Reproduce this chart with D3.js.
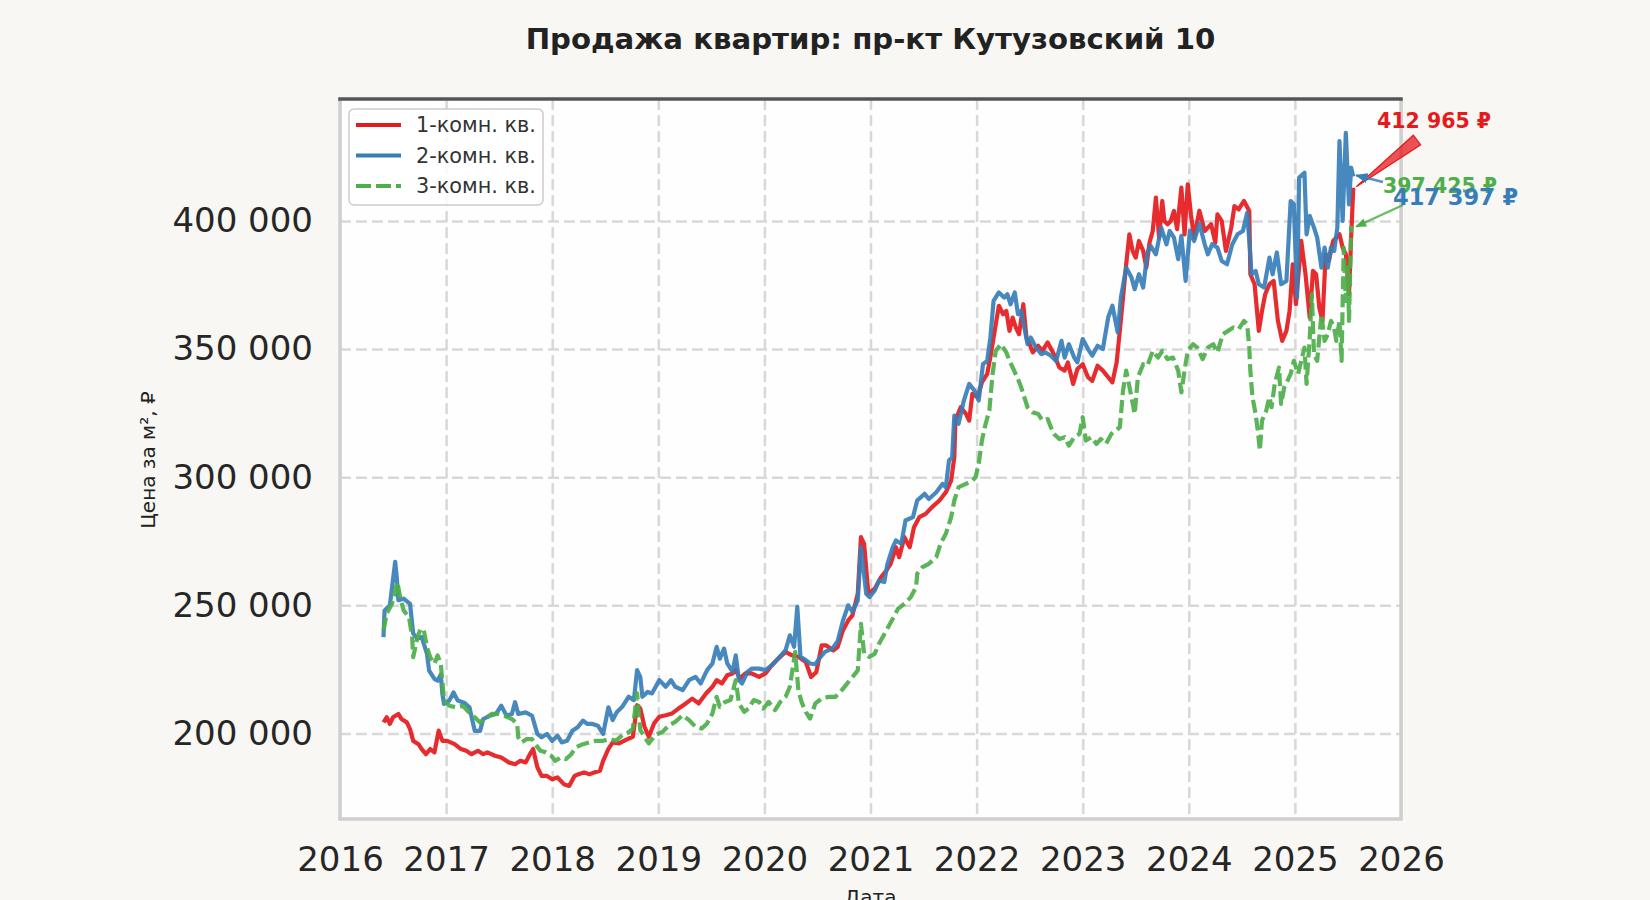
<!DOCTYPE html>
<html>
<head>
<meta charset="utf-8">
<script src="https://cdn.jsdelivr.net/npm/d3@7"></script>
<style>
  body { margin: 0; background: #f8f7f3; }
  svg { display: block; font-family: "DejaVu Sans", sans-serif; }
</style>
</head>
<body>
<div id="chart"></div>
<script>
// Данные: [год (десятичный), цена за м²]
const room1 = [
  [2016.41,204300],[2016.44,206300],[2016.47,203700],[2016.50,206300],[2016.55,207600],[2016.58,205600],
  [2016.63,204300],[2016.66,201700],[2016.69,197100],[2016.74,195800],[2016.77,193900],[2016.81,191900],
  [2016.85,193900],[2016.89,192600],[2016.93,201100],[2016.965,197100],[2017.01,197100],[2017.08,195800],
  [2017.14,193900],[2017.19,193200],[2017.24,191900],[2017.30,193200],[2017.35,191900],[2017.39,192600],
  [2017.46,191300],[2017.52,190600],[2017.59,188700],[2017.65,188000],[2017.70,189300],[2017.75,188700],
  [2017.79,191900],[2017.82,193900],[2017.86,186800],[2017.90,183400],[2017.95,183400],[2018.00,182100],
  [2018.05,182800],[2018.11,180200],[2018.16,179500],[2018.21,183400],[2018.25,184100],[2018.30,184800],
  [2018.35,184100],[2018.40,184800],[2018.45,185400],[2018.48,189300],[2018.53,194000],[2018.57,196500],
  [2018.63,196100],[2018.69,197400],[2018.76,198700],[2018.80,211000],[2018.83,209700],[2018.87,202600],
  [2018.91,198700],[2018.96,203900],[2019.01,206500],[2019.07,207100],[2019.13,207800],[2019.19,209700],
  [2019.26,211700],[2019.32,213600],[2019.38,211700],[2019.45,215600],[2019.51,218200],[2019.55,220800],
  [2019.60,219500],[2019.65,222700],[2019.70,223400],[2019.73,224700],[2019.77,221400],[2019.82,223400],
  [2019.88,223400],[2019.95,222100],[2020.01,223400],[2020.07,226600],[2020.13,229200],[2020.20,231800],
  [2020.26,230500],[2020.32,229900],[2020.39,227900],[2020.44,222000],[2020.49,224000],[2020.54,234400],
  [2020.58,234400],[2020.65,232400],[2020.69,233700],[2020.74,240200],[2020.79,244100],[2020.83,246100],
  [2020.88,254500],[2020.91,276600],[2020.94,274000],[2020.98,254500],[2021.04,256500],[2021.10,261000],
  [2021.15,263600],[2021.19,266200],[2021.24,272700],[2021.27,268800],[2021.32,276600],[2021.37,272700],
  [2021.41,280500],[2021.46,284400],[2021.52,285700],[2021.58,288300],[2021.65,290900],[2021.71,294100],
  [2021.76,298700],[2021.79,307800],[2021.80,322100],[2021.85,327300],[2021.90,324700],[2021.93,322100],
  [2021.96,332500],[2022.01,331200],[2022.05,337000],[2022.10,340300],[2022.13,347000],[2022.16,354500],
  [2022.21,366900],[2022.25,363600],[2022.28,364900],[2022.31,357100],[2022.34,362300],[2022.37,358400],
  [2022.40,355800],[2022.44,367500],[2022.47,354500],[2022.50,351900],[2022.53,348700],[2022.58,351300],
  [2022.62,349300],[2022.67,352600],[2022.72,348700],[2022.78,342800],[2022.83,341600],[2022.86,344800],
  [2022.91,336400],[2022.95,342200],[2023.00,344100],[2023.05,339000],[2023.09,337600],[2023.14,343500],
  [2023.19,341600],[2023.24,339000],[2023.28,337000],[2023.32,344800],[2023.35,357100],[2023.38,370100],
  [2023.41,383100],[2023.44,394800],[2023.47,388300],[2023.50,385700],[2023.53,392200],[2023.57,388300],
  [2023.60,381800],[2023.63,391600],[2023.66,396100],[2023.69,409100],[2023.72,393500],[2023.75,407800],
  [2023.77,400000],[2023.80,398700],[2023.83,400000],[2023.86,403900],[2023.89,396800],[2023.93,413000],
  [2023.96,394800],[2023.99,414300],[2024.02,402600],[2024.05,393500],[2024.10,404000],[2024.15,396100],
  [2024.18,397400],[2024.21,398700],[2024.25,391600],[2024.27,402600],[2024.31,400000],[2024.35,388300],
  [2024.40,397400],[2024.43,405800],[2024.47,404500],[2024.52,407800],[2024.57,403900],[2024.58,379200],
  [2024.62,375300],[2024.66,357100],[2024.69,364900],[2024.72,371400],[2024.76,375300],[2024.80,376600],
  [2024.84,361000],[2024.88,353200],[2024.92,357100],[2024.95,364900],[2024.98,383100],[2025.01,367500],
  [2025.06,392200],[2025.10,379200],[2025.14,362300],[2025.17,380500],[2025.20,379200],[2025.23,366200],
  [2025.26,361000],[2025.29,387000],[2025.32,384400],[2025.36,392200],[2025.39,393500],[2025.42,394800],
  [2025.45,389600],[2025.48,387000],[2025.51,371400],[2025.53,393500],[2025.55,412965]
];

const room2 = [
  [2016.41,237600],[2016.42,248000],[2016.47,250000],[2016.52,267000],[2016.535,261000],[2016.55,252000],
  [2016.60,252600],[2016.66,250600],[2016.69,239000],[2016.73,237000],[2016.77,237600],[2016.82,231000],
  [2016.84,224500],[2016.89,221300],[2016.92,220600],[2016.95,223000],[2016.965,215400],[2016.98,211500],
  [2017.03,212800],[2017.07,216000],[2017.11,212800],[2017.17,212000],[2017.22,210200],[2017.27,201000],
  [2017.32,201000],[2017.35,205600],[2017.41,206900],[2017.47,207600],[2017.52,210800],[2017.57,206900],
  [2017.62,207600],[2017.65,212200],[2017.68,207600],[2017.75,208200],[2017.81,206900],[2017.86,199800],
  [2017.90,198500],[2017.95,199800],[2018.00,197100],[2018.05,199100],[2018.09,196500],[2018.14,197100],
  [2018.19,201000],[2018.24,202400],[2018.29,205000],[2018.33,203700],[2018.38,203700],[2018.43,203000],
  [2018.48,199800],[2018.53,210200],[2018.57,205200],[2018.61,208400],[2018.66,210400],[2018.72,214300],
  [2018.77,213000],[2018.80,224700],[2018.83,222100],[2018.85,214300],[2018.90,216200],[2018.94,215600],
  [2019.01,220800],[2019.07,218200],[2019.12,220800],[2019.16,218200],[2019.23,216900],[2019.29,220800],
  [2019.35,222100],[2019.40,219500],[2019.46,224700],[2019.51,227300],[2019.55,233800],[2019.58,229200],
  [2019.62,233100],[2019.65,227300],[2019.70,224000],[2019.73,230500],[2019.76,220800],[2019.79,219500],
  [2019.84,224000],[2019.88,225300],[2019.95,225300],[2020.01,224700],[2020.07,226600],[2020.13,229200],
  [2020.20,232500],[2020.24,238300],[2020.28,233800],[2020.31,249400],[2020.34,229900],[2020.39,228600],
  [2020.43,227300],[2020.48,227000],[2020.53,229900],[2020.57,231800],[2020.64,233100],[2020.69,236000],
  [2020.74,244000],[2020.79,250000],[2020.83,247400],[2020.88,251900],[2020.91,272700],[2020.96,254500],
  [2020.99,253200],[2021.04,255800],[2021.08,259700],[2021.13,259100],[2021.16,266200],[2021.21,272700],
  [2021.24,275300],[2021.29,274000],[2021.33,283100],[2021.40,284400],[2021.44,290900],[2021.51,293500],
  [2021.55,291500],[2021.62,294100],[2021.68,297400],[2021.71,296100],[2021.74,306500],[2021.77,307800],
  [2021.79,324000],[2021.83,320800],[2021.88,329900],[2021.93,336400],[2021.98,333800],[2022.02,329900],
  [2022.06,344100],[2022.10,345400],[2022.13,354500],[2022.16,368800],[2022.21,372100],[2022.26,370100],
  [2022.29,371400],[2022.32,367500],[2022.36,372100],[2022.39,363600],[2022.42,364900],[2022.45,358400],
  [2022.48,351900],[2022.51,354500],[2022.56,350600],[2022.61,348000],[2022.65,348700],[2022.70,347400],
  [2022.75,345400],[2022.80,353200],[2022.83,346700],[2022.87,351900],[2022.92,346700],[2022.95,344800],
  [2023.00,353900],[2023.05,350000],[2023.09,347400],[2023.14,351300],[2023.19,350000],[2023.24,362300],
  [2023.28,366900],[2023.33,356500],[2023.36,370100],[2023.41,381800],[2023.46,377900],[2023.49,373400],
  [2023.53,379200],[2023.57,374000],[2023.61,387700],[2023.64,390300],[2023.69,387000],[2023.74,397400],
  [2023.79,390900],[2023.82,396100],[2023.86,393500],[2023.90,385100],[2023.93,394200],[2023.97,376600],
  [2024.01,396100],[2024.05,392200],[2024.10,399000],[2024.15,390900],[2024.18,387000],[2024.22,390900],
  [2024.27,389600],[2024.31,384400],[2024.36,383100],[2024.41,390900],[2024.46,394800],[2024.51,396100],
  [2024.55,403200],[2024.58,387000],[2024.59,379200],[2024.63,380500],[2024.66,375300],[2024.71,374000],
  [2024.76,385700],[2024.79,379200],[2024.83,387700],[2024.87,375300],[2024.92,376600],[2024.96,407800],
  [2024.99,406500],[2025.02,370100],[2025.04,416900],[2025.09,418800],[2025.11,394800],[2025.14,402000],
  [2025.18,397400],[2025.21,393500],[2025.25,381800],[2025.28,389600],[2025.31,381800],[2025.34,389600],
  [2025.37,388300],[2025.40,397400],[2025.42,431200],[2025.45,400000],[2025.48,434400],[2025.51,406500],
  [2025.53,420800],[2025.55,417397]
];

const room3 = [
  [2016.41,240200],[2016.44,246700],[2016.49,250600],[2016.54,259100],[2016.57,252600],[2016.60,248000],
  [2016.65,245400],[2016.68,237600],[2016.69,229800],[2016.73,237600],[2016.76,240900],[2016.79,240200],
  [2016.82,233700],[2016.85,229800],[2016.89,227200],[2016.92,230400],[2016.95,227200],[2016.98,212800],
  [2017.03,210800],[2017.09,210200],[2017.16,210800],[2017.20,208900],[2017.27,206300],[2017.32,204300],
  [2017.36,205600],[2017.43,207600],[2017.49,207600],[2017.55,206900],[2017.62,205600],[2017.67,203700],
  [2017.68,198500],[2017.71,196500],[2017.76,197800],[2017.81,197800],[2017.84,195800],[2017.89,193200],
  [2017.94,192600],[2017.99,191300],[2018.03,189300],[2018.08,190600],[2018.13,190000],[2018.18,191900],
  [2018.22,194500],[2018.29,195800],[2018.35,196500],[2018.41,197100],[2018.48,197100],[2018.54,197800],
  [2018.60,197100],[2018.66,199300],[2018.72,200400],[2018.76,201900],[2018.80,215600],[2018.83,201300],
  [2018.88,198000],[2018.91,196100],[2018.97,199300],[2019.04,200600],[2019.10,203200],[2019.16,204500],
  [2019.23,207100],[2019.29,205200],[2019.35,202600],[2019.41,201900],[2019.46,203900],[2019.51,207800],
  [2019.55,214300],[2019.58,210400],[2019.63,212300],[2019.68,213000],[2019.73,220800],[2019.76,211700],
  [2019.81,208400],[2019.85,209700],[2019.90,213000],[2019.95,212300],[2019.99,209700],[2020.04,212300],
  [2020.10,209100],[2020.15,212300],[2020.20,214300],[2020.24,218200],[2020.29,231800],[2020.32,216900],
  [2020.35,212300],[2020.39,208400],[2020.43,205800],[2020.48,211700],[2020.54,213600],[2020.61,214300],
  [2020.67,214300],[2020.73,216900],[2020.78,219500],[2020.83,222000],[2020.88,224600],[2020.91,242800],
  [2020.94,231100],[2020.99,229800],[2021.04,231100],[2021.08,235000],[2021.15,240200],[2021.21,244800],
  [2021.26,248700],[2021.32,250600],[2021.38,253200],[2021.43,257100],[2021.44,262300],[2021.49,264900],
  [2021.55,266200],[2021.62,268800],[2021.66,274000],[2021.71,277900],[2021.76,284400],[2021.79,290900],
  [2021.83,296100],[2021.90,297400],[2021.96,298700],[2021.99,300000],[2022.02,305200],[2022.05,314300],
  [2022.08,320000],[2022.12,326000],[2022.15,340000],[2022.18,349300],[2022.23,351900],[2022.28,348700],
  [2022.31,345400],[2022.34,342800],[2022.39,338300],[2022.42,335100],[2022.45,331200],[2022.48,327300],
  [2022.53,325300],[2022.58,324700],[2022.62,322100],[2022.67,322700],[2022.70,319500],[2022.73,316900],
  [2022.78,314900],[2022.83,315600],[2022.87,312300],[2022.92,315600],[2022.97,316900],[2023.00,323400],
  [2023.03,314300],[2023.08,315600],[2023.13,313000],[2023.17,314900],[2023.22,313000],[2023.27,316900],
  [2023.31,318200],[2023.35,319500],[2023.38,333800],[2023.41,341600],[2023.46,331200],[2023.49,324700],
  [2023.52,338900],[2023.57,344100],[2023.61,343500],[2023.66,349300],[2023.71,346700],[2023.75,349300],
  [2023.80,346100],[2023.85,346700],[2023.90,341600],[2023.93,333100],[2023.96,341600],[2023.99,349300],
  [2024.04,351900],[2024.08,350600],[2024.13,346100],[2024.18,350600],[2024.23,351900],[2024.27,348700],
  [2024.32,355800],[2024.37,357100],[2024.42,358400],[2024.47,357800],[2024.52,361000],[2024.55,359700],
  [2024.57,350600],[2024.58,341600],[2024.60,331200],[2024.63,324700],[2024.65,318200],[2024.67,310400],
  [2024.69,322100],[2024.73,326000],[2024.76,331200],[2024.78,327300],[2024.81,336400],[2024.85,342800],
  [2024.87,328600],[2024.90,335100],[2024.93,337600],[2024.96,340300],[2024.99,345400],[2025.03,340300],
  [2025.06,345400],[2025.09,350600],[2025.11,336400],[2025.14,354500],[2025.16,371400],[2025.18,348000],
  [2025.21,345400],[2025.25,363600],[2025.28,353200],[2025.31,355800],[2025.34,361000],[2025.37,358400],
  [2025.39,353200],[2025.42,361000],[2025.44,345400],[2025.46,389600],[2025.48,368800],[2025.50,381800],
  [2025.51,361000],[2025.53,397400],[2025.55,397425]
];

const seriesNames = ["1-комн. кв.", "2-комн. кв.", "3-комн. кв."];
const seriesColors = ["#e41a1c", "#377eb8", "#4daf4a"];
const yearTicks = [2016, 2017, 2018, 2019, 2020, 2021, 2022, 2023, 2024, 2025, 2026];
const priceTicks = [200000, 250000, 300000, 350000, 400000];
const lastLabels = ["412 965 ₽", "417 397 ₽", "397 425 ₽"];

const W = 1650, H = 900;
const margin = { top: 99, right: 249, bottom: 81, left: 340 };
const width = W - margin.left - margin.right,
      height = H - margin.top - margin.bottom;

const svg = d3.select("#chart").append("svg")
    .attr("width", W)
    .attr("height", H);

svg.append("rect").attr("width", W).attr("height", H).attr("fill", "#f8f7f3");

const g = svg.append("g").attr("transform", `translate(${margin.left},${margin.top})`);

g.append("rect").attr("width", width).attr("height", height).attr("fill", "#fefefe");

// Шкалы
const x = d3.scaleLinear().domain([2016, 2026]).range([0, width]);
const y = d3.scaleLinear().domain([166600, 447600]).range([height, 0]);

const ru = d3.formatLocale({ decimal: ",", thousands: " ", grouping: [3], currency: ["", " ₽"] });

// Сетка
g.append("g")
    .attr("class", "grid")
    .call(d3.axisBottom(x).tickValues(yearTicks).tickSize(height).tickFormat(""))
    .call(s => s.select(".domain").remove());
g.append("g")
    .attr("class", "grid")
    .call(d3.axisLeft(y).tickValues(priceTicks).tickSize(-width).tickFormat(""))
    .call(s => s.select(".domain").remove());
g.selectAll(".grid line")
    .attr("stroke", "#d8d8d8")
    .attr("stroke-width", 2.5)
    .attr("stroke-dasharray", "11,5");

// Рамка
g.append("line").attr("x1", 0).attr("x2", 0).attr("y1", 0).attr("y2", height)
    .attr("stroke", "#cfcfcf").attr("stroke-width", 3.5);
g.append("line").attr("x1", width).attr("x2", width).attr("y1", 0).attr("y2", height)
    .attr("stroke", "#cfcfcf").attr("stroke-width", 3.5);
g.append("line").attr("x1", -1.75).attr("x2", width + 1.75).attr("y1", height).attr("y2", height)
    .attr("stroke", "#cfcfcf").attr("stroke-width", 3.5);
g.append("line").attr("x1", -1.75).attr("x2", width + 1.75).attr("y1", 0).attr("y2", 0)
    .attr("stroke", "#555555").attr("stroke-width", 3.5);

// Оси (подписи)
const xAxis = g.append("g")
    .attr("transform", `translate(0,${height})`)
    .call(d3.axisBottom(x).tickValues(yearTicks).tickSize(0).tickPadding(28).tickFormat(d3.format("d")));
const yAxis = g.append("g")
    .call(d3.axisLeft(y).tickValues(priceTicks).tickSize(0).tickPadding(27).tickFormat(ru.format(",d")));
[xAxis, yAxis].forEach(a => {
    a.select(".domain").remove();
    a.selectAll("text")
        .style("font-family", "DejaVu Sans, sans-serif")
        .style("font-size", "34px")
        .attr("fill", "#262626");
});

// Линии
const clip = g.append("clipPath").attr("id", "clip")
    .append("rect").attr("width", width).attr("height", height);

const line = d3.line().x(d => x(d[0])).y(d => y(d[1]));
const allSeries = [room1, room2, room3];

const plot = g.append("g").attr("clip-path", "url(#clip)");
allSeries.forEach((s, i) => {
    plot.append("path")
        .datum(s)
        .attr("fill", "none")
        .attr("stroke", seriesColors[i])
        .attr("stroke-width", 4.2)
        .attr("stroke-opacity", 0.92)
        .attr("stroke-linejoin", "round")
        .attr("stroke-dasharray", i === 2 ? "13,5" : null)
        .attr("d", line);
});

// Легенда
const legend = g.append("g").attr("transform", "translate(9,10)");
legend.append("rect")
    .attr("width", 194).attr("height", 96).attr("rx", 5)
    .attr("fill", "#ffffff").attr("fill-opacity", 0.85)
    .attr("stroke", "#cccccc").attr("stroke-width", 1.5);
seriesNames.forEach((name, i) => {
    const row = legend.append("g").attr("transform", `translate(0,${16 + i * 30.5})`);
    row.append("line")
        .attr("x1", 7).attr("x2", 52)
        .attr("stroke", seriesColors[i])
        .attr("stroke-width", 4)
        .attr("stroke-dasharray", i === 2 ? "15,5" : null);
    row.append("text")
        .attr("x", 67).attr("dy", "0.35em")
        .style("font-size", "20.8px")
        .attr("fill", "#333")
        .text(name);
});

// Аннотации последних значений
const ends = allSeries.map(s => s[s.length - 1]);
const tip = i => [x(ends[i][0]) + 3, y(ends[i][1]) - 1];

const defs = svg.append("defs");
[1, 2].forEach(i => {
    defs.append("marker")
        .attr("id", "head" + i)
        .attr("viewBox", "0 0 10 10")
        .attr("refX", 9).attr("refY", 5)
        .attr("markerWidth", 5).attr("markerHeight", 5)
        .attr("markerUnits", "strokeWidth")
        .attr("orient", "auto")
        .append("path").attr("d", "M0,1 L10,5 L0,9 z")
        .attr("fill", seriesColors[i]);
});

// красная стрелка-клин
const [rtx, rty] = tip(0);
const tail = [1077, 41];
const ang = Math.atan2(tail[1] - rty, tail[0] - rtx);
const hw = 6;
g.append("path")
    .attr("d", `M${rtx},${rty} L${tail[0] - hw * Math.sin(ang)},${tail[1] + hw * Math.cos(ang)} L${tail[0] + hw * Math.sin(ang)},${tail[1] - hw * Math.cos(ang)} Z`)
    .attr("fill", seriesColors[0]).attr("fill-opacity", 0.75)
    .attr("stroke", seriesColors[0]).attr("stroke-width", 1.2);

const [btx, bty] = tip(1);
g.append("line")
    .attr("x1", 1043).attr("y1", 83).attr("x2", btx).attr("y2", bty)
    .attr("stroke", seriesColors[1]).attr("stroke-width", 2.5).attr("stroke-opacity", 0.85)
    .attr("marker-end", "url(#head1)");

const [gtx, gty] = tip(2);
g.append("line")
    .attr("x1", 1063).attr("y1", 106).attr("x2", gtx).attr("y2", gty)
    .attr("stroke", seriesColors[2]).attr("stroke-width", 2.2).attr("stroke-opacity", 0.85)
    .attr("marker-end", "url(#head2)");

const annot = [
    { i: 0, x: 1037, y: 29, size: 20.5 },
    { i: 2, x: 1043, y: 94, size: 20.5 },
    { i: 1, x: 1053, y: 106, size: 22.5 }
];
annot.forEach(a => {
    g.append("text")
        .attr("x", a.x).attr("y", a.y)
        .style("font-size", a.size + "px")
        .style("font-weight", "bold")
        .attr("fill", seriesColors[a.i])
        .text(lastLabels[a.i]);
});

// Заголовок и подписи осей
svg.append("text")
    .attr("x", margin.left + width / 2)
    .attr("y", 49)
    .attr("text-anchor", "middle")
    .style("font-size", "29.2px")
    .style("font-weight", "bold")
    .attr("fill", "#222")
    .text("Продажа квартир: пр-кт Кутузовский 10");

svg.append("text")
    .attr("transform", "translate(155,460) rotate(-90)")
    .attr("text-anchor", "middle")
    .style("font-size", "20px")
    .attr("fill", "#222")
    .text("Цена за м², ₽");

svg.append("text")
    .attr("x", margin.left + width / 2)
    .attr("y", 904)
    .attr("text-anchor", "middle")
    .style("font-size", "20px")
    .attr("fill", "#222")
    .text("Дата");
</script>
</body>
</html>
